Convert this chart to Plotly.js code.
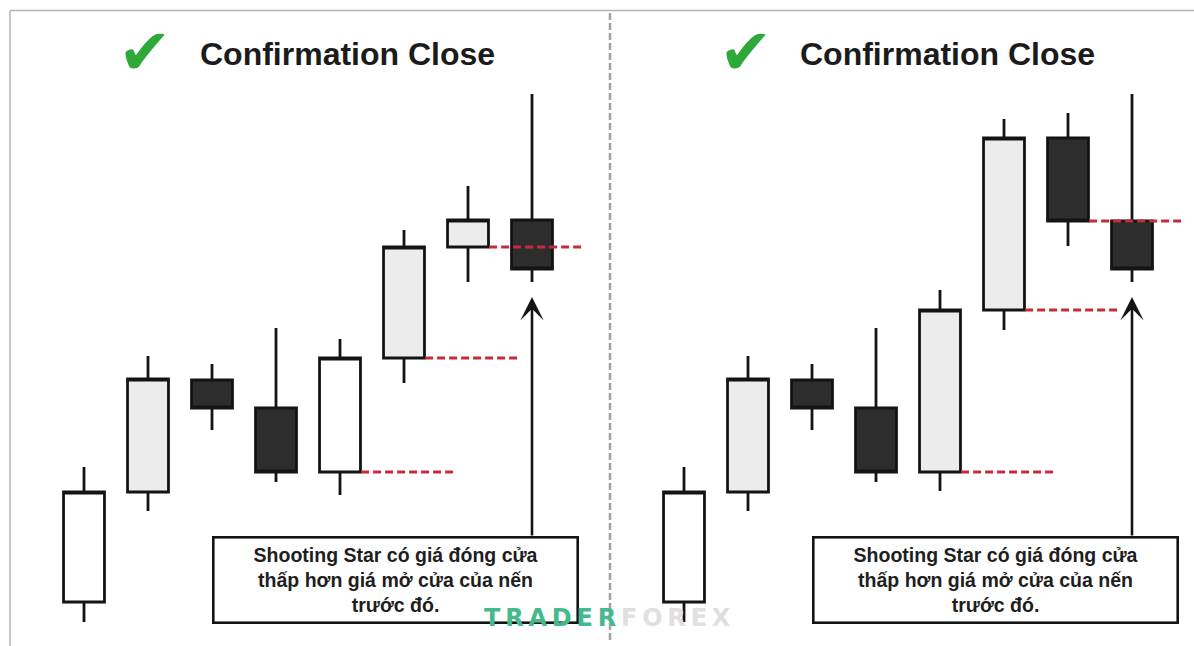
<!DOCTYPE html>
<html><head><meta charset="utf-8">
<script src="https://cdn.plot.ly/plotly-3.0.1.min.js"></script>
<style>html,body{margin:0;padding:0;background:#fff}#chart{width:1194px;height:646px}</style>
</head><body><div id="chart"></div>
<script>
// ---- data ----
const candleIndex = [0, 1, 2, 3, 4, 5, 6, 7];
const leftOpen   = [4.4, 15.4, 26.6, 23.8, 17.4, 28.8, 39.9, 42.6];
const leftHigh   = [17.9, 29.0, 28.2, 31.8, 30.7, 41.6, 46.0, 55.2];
const leftLow    = [2.4, 13.5, 21.6, 16.4, 15.1, 26.3, 36.4, 36.4];
const leftClose  = [15.4, 26.7, 23.8, 17.4, 28.8, 39.9, 42.6, 37.7];
const leftShade  = ['white', 'gray', 'dark', 'dark', 'white', 'gray', 'gray', 'dark'];
const rightOpen  = [4.4, 15.4, 26.6, 23.8, 17.4, 33.6, 50.8, 42.5];
const rightHigh  = [17.9, 29.0, 28.2, 31.8, 35.6, 52.7, 53.3, 55.2];
const rightLow   = [2.4, 13.5, 21.6, 16.4, 15.5, 31.6, 40.0, 36.4];
const rightClose = [15.4, 26.7, 23.8, 17.4, 33.6, 50.8, 42.5, 37.7];
const rightShade = ['white', 'gray', 'dark', 'dark', 'gray', 'gray', 'dark', 'dark'];
const levelCandles = [4, 5, 6];      // candles whose body bottom is marked by a dashed line
const starIndex = 7;                 // the shooting star
const panelTitle = 'Confirmation Close';
const noteLines = ['Shooting Star có giá đóng cửa', 'thấp hơn giá mở cửa của nến', 'trước đó.'];
const watermarkA = 'TRADER';
const watermarkB = 'FOREX';

// ---- styles ----
const fills = {white: '#ffffff', gray: '#ececec', dark: '#2d2d2d'};
const edge = '#141414';
const W = 1194, H = 646;

function candleTraces(open, high, low, close, shade, xa) {
  return Object.keys(fills).map(k => {
    const ids = candleIndex.filter(i => shade[i] === k);
    const st = {fillcolor: fills[k], line: {color: edge, width: 2.8}};
    return {
      type: 'candlestick', xaxis: xa, yaxis: 'y',
      x: ids.map(i => candleIndex[i]),
      open: ids.map(i => open[i]), high: ids.map(i => high[i]),
      low: ids.map(i => low[i]), close: ids.map(i => close[i]),
      increasing: st, decreasing: st, whiskerwidth: 0,
      hoverinfo: 'skip', showlegend: false
    };
  });
}
function levelTrace(open, close, xa) {
  const x = [], y = [];
  levelCandles.forEach(i => {
    const lv = Math.min(open[i], close[i]);
    x.push(candleIndex[i] + 0.33, candleIndex[i] + 1.77, null);
    y.push(lv, lv, null);
  });
  return {type: 'scatter', mode: 'lines', x, y, xaxis: xa, yaxis: 'y',
    line: {color: '#c42c3e', width: 3, dash: '8px,4px'}, hoverinfo: 'skip', showlegend: false};
}

const data = [].concat(
  candleTraces(leftOpen, leftHigh, leftLow, leftClose, leftShade, 'x'),
  candleTraces(rightOpen, rightHigh, rightLow, rightClose, rightShade, 'x2'),
  [levelTrace(leftOpen, leftClose, 'x'), levelTrace(rightOpen, rightClose, 'x2')]
);

const noteFont = {family: 'Liberation Sans, Arial, sans-serif', size: 19.5, color: '#1e1e1e', weight: 700};
const titleFont = {family: 'Liberation Sans, Arial, sans-serif', size: 32, color: '#1b1b1b', weight: 700};
const checkFont = {family: 'DejaVu Sans, sans-serif', size: 64, color: '#2fa83a'};

function panelAnnotations(xa, low, titleX, checkX) {
  return [
    {xref: xa, yref: 'y', x: candleIndex[starIndex], y: low[starIndex] - 1.5,
     axref: xa, ayref: 'y', ax: candleIndex[starIndex], ay: 10.9,
     showarrow: true, arrowhead: 3, arrowsize: 1.5, arrowwidth: 2.6, arrowcolor: edge, standoff: 0, text: ''},
    {xref: xa, yref: 'y', x: 4.87, y: 6.65, text: noteLines.join('<br>'), showarrow: false,
     width: 362, height: 83, borderpad: 0, bordercolor: edge, borderwidth: 2.6, bgcolor: '#ffffff',
     font: noteFont, align: 'center', valign: 'middle'},
    {xref: 'paper', yref: 'paper', x: titleX / W, y: 1 - 54 / H, xanchor: 'left', yanchor: 'middle',
     text: panelTitle, showarrow: false, font: titleFont},
    {xref: 'paper', yref: 'paper', x: checkX / W, y: 1 - 52 / H, xanchor: 'center', yanchor: 'middle',
     text: '✔', showarrow: false, font: checkFont}
  ];
}

const sp = '\u2009';
const annotations = [].concat(
  panelAnnotations('x', leftLow, 198, 145),
  panelAnnotations('x2', rightLow, 798, 746),
  [{xref: 'paper', yref: 'paper', x: 607 / W, y: 1 - 618 / H, xanchor: 'center', yanchor: 'middle', showarrow: false,
    text: '<span style="color:#45b98c">' + watermarkA.split('').join(sp) + '</span>' + sp +
          '<span style="color:#e0e0e0">' + watermarkB.split('').join(sp) + '</span>',
    font: {family: 'DejaVu Sans, sans-serif', size: 24, weight: 700}}]
);

const hidden = {visible: false, fixedrange: true};
const layout = {
  width: W, height: H, margin: {l: 0, r: 0, t: 0, b: 0},
  paper_bgcolor: '#ffffff', plot_bgcolor: 'rgba(0,0,0,0)',
  showlegend: false, boxgap: 0.36, boxgroupgap: 0,
  xaxis: Object.assign({domain: [0, 600 / W], range: [-84 / 64, (600 - 84) / 64], rangeslider: {visible: false}}, hidden),
  xaxis2: Object.assign({domain: [600 / W, 1], range: [-84 / 64, (594 - 84) / 64], anchor: 'y', rangeslider: {visible: false}}, hidden),
  yaxis: Object.assign({domain: [0, 1], range: [0, 64.6]}, hidden),
  annotations: annotations,
  shapes: [
    {type: 'line', xref: 'paper', yref: 'paper', x0: 10 / W, x1: 1, y0: 1 - 10.5 / H, y1: 1 - 10.5 / H, line: {color: '#b4b4b4', width: 1.5}},
    {type: 'line', xref: 'paper', yref: 'paper', x0: 10 / W, x1: 10 / W, y0: 0, y1: 1 - 10.5 / H, line: {color: '#b4b4b4', width: 1.5}},
    {type: 'line', xref: 'paper', yref: 'paper', x0: 610 / W, x1: 610 / W, y0: 6 / H, y1: 1 - 11 / H, line: {color: '#a2a2a2', width: 2.5, dash: '7px,3px'}}
  ]
};

Plotly.newPlot('chart', data, layout, {displayModeBar: false, staticPlot: true});
</script>
</body></html>
